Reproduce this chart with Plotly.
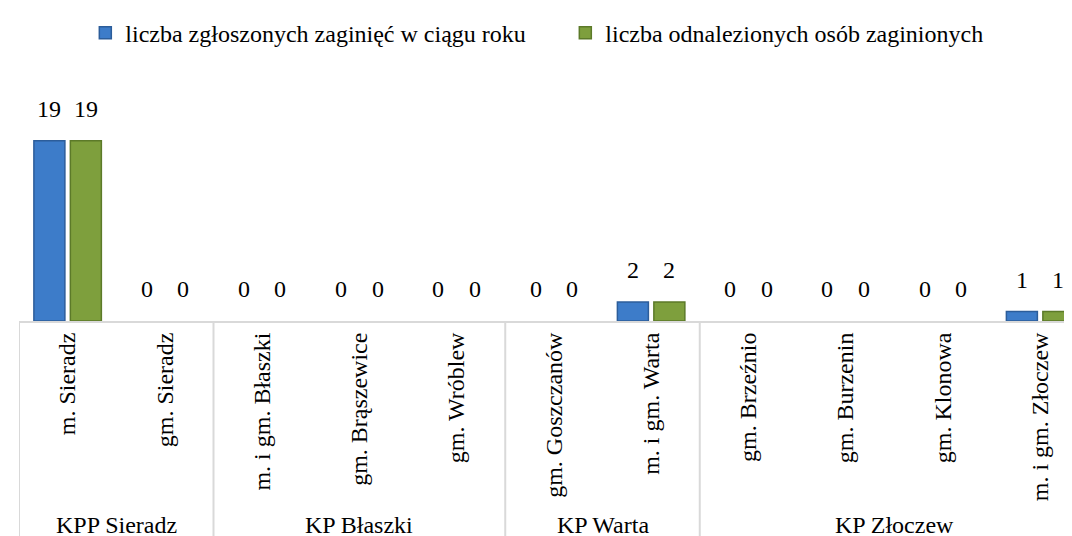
import plotly.graph_objects as go

groups = ["KPP Sieradz", "KPP Sieradz",
          "KP Błaszki", "KP Błaszki", "KP Błaszki",
          "KP Warta", "KP Warta",
          "KP Złoczew", "KP Złoczew", "KP Złoczew", "KP Złoczew"]
categories = ["m. Sieradz", "gm. Sieradz",
              "m. i gm. Błaszki", "gm. Brąszewice", "gm. Wróblew",
              "gm. Goszczanów", "m. i gm. Warta",
              "gm. Brzeźnio", "gm. Burzenin", "gm. Klonowa", "m. i gm. Złoczew"]
zgloszone = [19, 0, 0, 0, 0, 0, 2, 0, 0, 0, 1]
odnalezione = [19, 0, 0, 0, 0, 0, 2, 0, 0, 0, 1]
series_names = ["liczba zgłoszonych zaginięć w ciągu roku",
                "liczba odnalezionych osób zaginionych"]

FONT = "Liberation Serif"
FS = 24
W, H = 1072, 536
ML, MR, MT, MB = 10.5, 0, 50, 222.7
PLOT_H = H - MT - MB

fig = go.Figure()
fig.add_trace(go.Bar(
    x=categories, y=zgloszone, name=series_names[0],
    marker=dict(color="#3d7cc9",
                line=dict(color="#2c5d9a", width=[1.5 if v else 0 for v in zgloszone])),
))
fig.add_trace(go.Bar(
    x=categories, y=odnalezione, name=series_names[1],
    marker=dict(color="#7e9f3d",
                line=dict(color="#5c7a29", width=[1.5 if v else 0 for v in odnalezione])),
))

# data labels above bars (offset for grouped bars)
annotations = []
for vals, xs in ((zgloszone, -18.25), (odnalezione, 18.25)):
    for c, v in zip(categories, vals):
        annotations.append(dict(x=c, y=v, xref="x", yref="y", text=str(v),
                                showarrow=False, yanchor="bottom", yshift=17, xshift=xs,
                                font=dict(family=FONT, size=FS, color="#000000")))

# group labels and dividers, positions derived from the groups list
shapes = []
bottom = -MB / PLOT_H
start = 0
bounds = [0]
order = []
for i in range(1, len(groups) + 1):
    if i == len(groups) or groups[i] != groups[i - 1]:
        order.append((groups[i - 1], start, i - 1))
        bounds.append(i)
        start = i
for b in bounds:
    shapes.append(dict(type="line", xref="x", yref="paper", x0=b - 0.5, x1=b - 0.5,
                       y0=0, y1=bottom, line=dict(color="#d9d9d9", width=2)))
label_y = -(518 - (MT + PLOT_H)) / PLOT_H
for name, a, b in order:
    annotations.append(dict(x=(a + b) / 2, y=label_y, xref="x", yref="paper", text=name,
                            showarrow=False, yanchor="middle", xanchor="center",
                            font=dict(family=FONT, size=FS, color="#000000")))

fig.update_layout(
    width=W, height=H,
    margin=dict(l=ML, r=MR, t=MT, b=MB, autoexpand=False),
    paper_bgcolor="white", plot_bgcolor="white",
    barmode="group", bargap=0.25, bargroupgap=0.15,
    font=dict(family=FONT, size=FS, color="#000000"),
    showlegend=True,
    legend=dict(orientation="h", x=0.0625, xanchor="left", y=0.995, yanchor="top",
                yref="container", font=dict(family=FONT, size=FS, color="#000000"),
                itemwidth=30, traceorder="normal",
                entrywidth=435, entrywidthmode="pixels"),
    xaxis=dict(
        type="category", range=[-0.5, 10.41],
        tickangle=-90, showline=True, linecolor="#d9d9d9", linewidth=2,
        ticks="", showgrid=False, zeroline=False, automargin=False,
        tickfont=dict(family=FONT, size=FS, color="#000000"),
    ),
    yaxis=dict(range=[0, PLOT_H / 9.5], visible=False, showgrid=False, zeroline=False),
    annotations=annotations,
    shapes=shapes,
)

fig.write_html("out.html")
